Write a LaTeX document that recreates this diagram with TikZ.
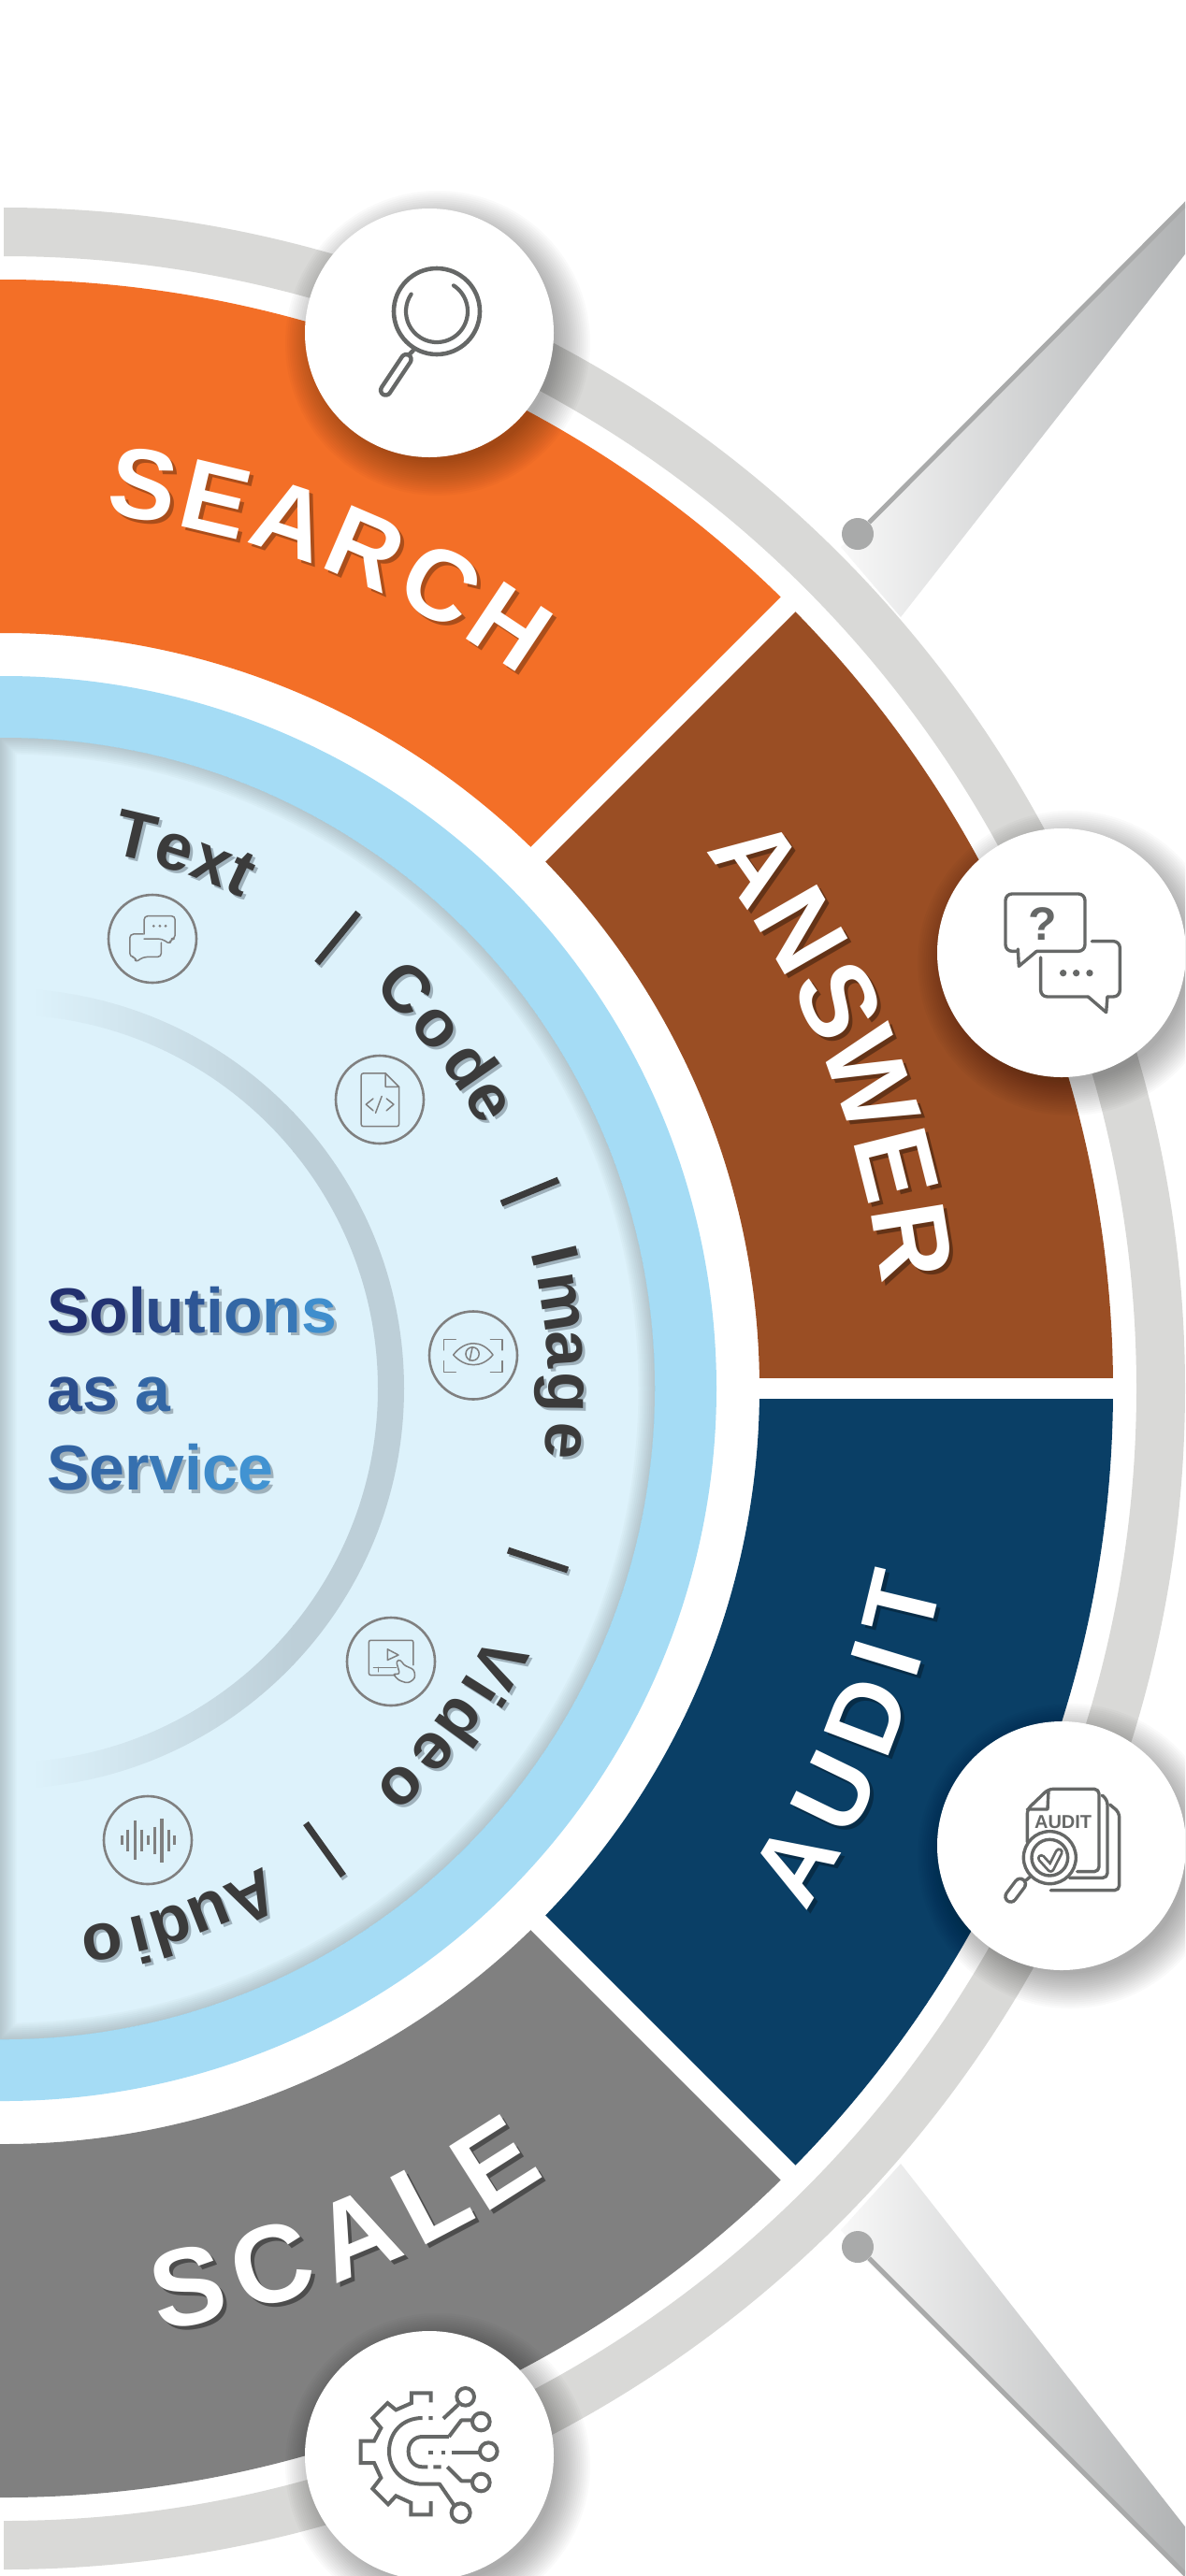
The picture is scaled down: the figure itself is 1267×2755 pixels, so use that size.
\documentclass[tikz,border=0pt]{standalone}
\usepackage{fontspec}
\setmainfont{Liberation Sans}
\usetikzlibrary{calc}
\definecolor{cOrange}{HTML}{F36F27}
\definecolor{cBrown}{HTML}{9A4E24}
\definecolor{cNavy}{HTML}{0A3F66}
\definecolor{cGrey}{HTML}{808080}
\definecolor{cRing}{HTML}{D9D9D7}
\definecolor{cSky}{HTML}{A5DCF5}
\definecolor{cPale}{HTML}{DDF2FB}
\definecolor{cInner}{HTML}{BDCFD8}
\definecolor{cIcon}{HTML}{666867}
\definecolor{cThin}{HTML}{808080}
\definecolor{cSpikeA}{HTML}{F8F8F8}
\definecolor{cSpikeB}{HTML}{B0B2B3}
\definecolor{cDot}{HTML}{A9AAAA}
\definecolor{cDark}{HTML}{3B3B3B}
\definecolor{cSoft}{HTML}{9FB1BB}
\definecolor{gA}{HTML}{22306F}
\definecolor{gB}{HTML}{4193D2}
\newcommand\gc[2]{\textcolor{gA!#1!gB}{#2}}
\newcommand\bigfont{\fontsize{107}{120}\selectfont\bfseries}
\newcommand\ansfont{\fontsize{113}{120}\selectfont\bfseries}
\newcommand\scafont{\fontsize{118}{120}\selectfont\bfseries}
\newcommand\midfont{\fontsize{71}{80}\selectfont\bfseries}
\newcommand\solfont{\fontsize{68}{80}\selectfont\bfseries}
% list, radius, rotation offset, colour, font, name
\newcommand\ringword[6]{%
  \foreach \ltr/\ang [count=\n] in {#1}{%
    \pgfmathsetmacro\rr{\ang+#3}
    \node[inner sep=0pt,anchor=base,rotate=\rr,text=#4,font=#5] (#6\n) at (\ang:#2) {\ltr};
  }}
\newcommand\shadowdisc[3]{%
  \foreach \i in {0,...,17}{%
    \pgfmathsetmacro\rs{#3+30-2.2*\i}
    \fill[black,opacity=.02] (#1+9,-#2-11) circle[radius=\rs];
  }}
\tikzset{
  sector/.style={draw=none},
  ico/.style={draw=cIcon,line width=3.4pt,line join=round,line cap=round},
  thin ico/.style={draw=cThin,line width=1.5pt,line join=round,line cap=round},
  ico ring/.style={circle,draw=cThin,line width=2.6pt,minimum size=94pt,inner sep=0pt},
  badge/.style={circle,fill=white,minimum size=266pt,inner sep=0pt},
  gap/.style={draw=white,line width=22pt},
  slash/.style={draw=cDark,line width=7pt},
  slash shadow/.style={draw=cSoft,line width=7pt},
  spike dot/.style={circle,fill=cDot,minimum size=34pt,inner sep=0pt},
}
\begin{document}
\begin{tikzpicture}[x=1pt,y=1pt]
\clip (0,0) rectangle (1267,-2755);
\fill[white] (0,0) rectangle (1267,-2755);

% spikes
\coordinate (tipT) at (1270,-216);
\coordinate (tipB) at (1270,-2756);
\shade[left color=cSpikeA,right color=cSpikeB]
  (899,-585) -- (929,-558) -- (1270,-216) -- (1270,-268) -- (963,-660) -- cycle;
\shade[left color=cSpikeA,right color=cSpikeB]
  (899,-2385) -- (963,-2314) -- (1270,-2706) -- (1270,-2756) -- (927,-2418) -- cycle;
\node[spike dot] (dotT) at (917,-571) {};
\node[spike dot] (dotB) at (917,-2403) {};
\draw[cDot,line width=5pt] (dotT) -- (tipT);
\draw[cDot,line width=5pt] (dotB) -- (tipB);

\begin{scope}[shift={(4,-1485)}]
  % outer ring
  \fill[cRing] (90:1263) arc[start angle=90,end angle=-90,radius=1263] -- (-90:1211)
     arc[start angle=-90,end angle=90,radius=1211] -- cycle;
  % sectors
  \fill[cOrange] (92:1186) arc[start angle=92,end angle=45,radius=1186] -- (45:808)
     arc[start angle=45,end angle=92,radius=808] -- cycle;
  \fill[cBrown] (45:1186) arc[start angle=45,end angle=0,radius=1186] -- (0:808)
     arc[start angle=0,end angle=45,radius=808] -- cycle;
  \fill[cNavy] (0:1186) arc[start angle=0,end angle=-45,radius=1186] -- (-45:808)
     arc[start angle=-45,end angle=0,radius=808] -- cycle;
  \fill[cGrey] (-45:1186) arc[start angle=-45,end angle=-92,radius=1186] -- (-92:808)
     arc[start angle=-92,end angle=-45,radius=808] -- cycle;
  \coordinate (g1a) at (45:800); \coordinate (g1b) at (45:1192);
  \coordinate (g2a) at (0:800);  \coordinate (g2b) at (0:1192);
  \coordinate (g3a) at (-45:800);\coordinate (g3b) at (-45:1192);
  \draw[gap] (g1a) -- (g1b);
  \draw[gap] (g2a) -- (g2b);
  \draw[gap] (g3a) -- (g3b);
  % sky ring and pale disc
  \fill[cSky] (92:762) arc[start angle=92,end angle=-92,radius=762] -- cycle;
  \fill[cPale] (-4,-696) -- (-4,696) -- (0,696) arc[start angle=90,end angle=-90,radius=696] -- cycle;
  \begin{scope}
    \clip (-4,-696) -- (-4,696) -- (0,696) arc[start angle=90,end angle=-90,radius=696] -- cycle;
    \foreach \w in {3,7,...,35}{
      \draw[color=black!60!cInner,opacity=.032,line width=\w pt] (-4,-696) -- (-4,696) -- (0,696) arc[start angle=90,end angle=-90,radius=696] -- cycle;
    }
  \end{scope}
  % inner fading ring
  \begin{scope}[even odd rule]
    \clip (0,0) circle[radius=428] (0,0) circle[radius=400];
    \shade[left color=cPale,right color=cInner] (30,-440) rectangle (310,440);
    \fill[cInner] (309,-440) rectangle (440,440);
  \end{scope}
\end{scope}

% badges
\shadowdisc{459}{356}{133}
\shadowdisc{1135}{1019}{133}
\shadowdisc{1135}{1974}{133}
\shadowdisc{459}{2626}{133}
\node[badge] (bSearch) at (459,-356) {};
\node[badge] (bAnswer) at (1135,-1019) {};
\node[badge] (bAudit) at (1135,-1974) {};
\node[badge] (bScale) at (459,-2626) {};

% sector words
\begin{scope}[shift={(4,-1485)}]
  \begin{scope}[shift={(4,-4)}]
    \ringword{S/81.2,E/76.6,A/71.7,R/66.7,C/61.5,H/56.4}{941}{-90}{black!30!cOrange}{\bigfont}{sa}
    \ringword{A/35,N/29.9,S/24.9,W/19.6,E/14.1,R/9.2}{945}{-90}{black!35!cBrown}{\ansfont}{aa}
    \ringword{A/-31,U/-25.9,D/-20.8,I/-17,T/-13.5}{1024}{90}{black!30!cNavy}{\bigfont}{ua}
    \ringword{S/-78.4,C/-73,A/-67.4,L/-62.2,E/-57.6}{1021}{90}{black!40!cGrey}{\scafont}{ca}
  \end{scope}
  \ringword{S/81.2,E/76.6,A/71.7,R/66.7,C/61.5,H/56.4}{941}{-90}{white}{\bigfont}{sb}
  \ringword{A/35,N/29.9,S/24.9,W/19.6,E/14.1,R/9.2}{945}{-90}{white}{\ansfont}{ab}
  \ringword{A/-31,U/-25.9,D/-20.8,I/-17,T/-13.5}{1024}{90}{white}{\bigfont}{ub}
  \ringword{S/-78.4,C/-73,A/-67.4,L/-62.2,E/-57.6}{1021}{90}{white}{\scafont}{cb}

  % modality words
  \begin{scope}[shift={(3,-3)}]
    \ringword{T/76.6,e/72.4,x/68.4,t/65.2}{583}{-90}{cSoft}{\midfont}{ta}
    \ringword{C/44.8,o/39.9,d/34.7,e/30.6}{582}{-90}{cSoft}{\midfont}{oa}
    \ringword{I/13.5,m/8.8,a/4,g/-.4,e/-5.3}{582}{-90}{cSoft}{\midfont}{ia}
    \ringword{V/-29,i/-32.3,d/-36,e/-40.2,o/-45}{582}{-90}{cSoft}{\midfont}{va}
    \ringword{A/-64,u/-68.6,d/-72.7,i/-76,o/-79.9}{582}{-90}{cSoft}{\midfont}{da}
  \end{scope}
  \ringword{T/76.6,e/72.4,x/68.4,t/65.2}{583}{-90}{cDark}{\midfont}{tb}
  \ringword{C/44.8,o/39.9,d/34.7,e/30.6}{582}{-90}{cDark}{\midfont}{ob}
  \ringword{I/13.5,m/8.8,a/4,g/-.4,e/-5.3}{582}{-90}{cDark}{\midfont}{ib}
  \ringword{V/-29,i/-32.3,d/-36,e/-40.2,o/-45}{582}{-90}{cDark}{\midfont}{vb}
  \ringword{A/-64,u/-68.6,d/-72.7,i/-76,o/-79.9}{582}{-90}{cDark}{\midfont}{db}
\end{scope}

% separators
\foreach \ax/\ay/\bx/\by in {339/1030/383/976,536/1287/597/1262,543/1658/607/1679,327/1950/367/2006}{
  \draw[slash shadow] (\ax+2,-\ay-3) -- (\bx+2,-\by-3);
  \draw[slash] (\ax,-\ay) -- (\bx,-\by);
}

% centre text
\node[anchor=base west,inner sep=0pt,text=cSoft,font=\solfont] (sol0) at (53,-1428) {Solutions};
\node[anchor=base west,inner sep=0pt,text=cSoft,font=\solfont] (asa0) at (53,-1512) {as a};
\node[anchor=base west,inner sep=0pt,text=cSoft,font=\solfont] (ser0) at (53,-1597) {Service};
\node[anchor=base west,inner sep=0pt,font=\solfont] (sol) at (50,-1425) {\gc{100}{S}\gc{97}{o}\gc{85}{l}\gc{75}{u}\gc{62}{t}\gc{55}{i}\gc{45}{o}\gc{28}{n}\gc{5}{s}};
\node[anchor=base west,inner sep=0pt,font=\solfont] (asa) at (50,-1509) {\gc{70}{a}\gc{62}{s} \gc{45}{a}};
\node[anchor=base west,inner sep=0pt,font=\solfont] (ser) at (50,-1593) {\gc{48}{S}\gc{42}{e}\gc{35}{r}\gc{25}{v}\gc{18}{i}\gc{8}{c}\gc{0}{e}};

% small icon rings
\node[ico ring] (rText) at (163,-1004) {};
\node[ico ring] (rCode) at (406,-1176) {};
\node[ico ring] (rImage) at (506,-1449.5) {};
\node[ico ring] (rVideo) at (418,-1777) {};
\node[ico ring] (rAudio) at (158,-1968) {};

% small icons, coordinates in crop pixels
\begin{scope}[shift={(0,-800)},x=.5102pt,y=-.5102pt]
  \draw[thin ico,rounded corners=4pt] (302,390) -- (302,352) -- (367,352) -- (367,400) -- (357,400) -- (357,412) -- (340,400) -- (302,400);
  \draw[thin ico,rounded corners=4pt] (300,390) -- (272,390) -- (272,438) -- (285,438) -- (283,450) -- (300,438) -- (338,438) -- (338,408);
  \foreach \x in {322,335,347} \fill[cThin] (\x,373) circle[radius=3];
  \draw[thin ico,rounded corners=2pt] (808,682) -- (757,682) -- (757,793) -- (836,793) -- (836,710);
  \draw[thin ico] (808,682) -- (836,710) -- (808,710) -- cycle;
  \draw[thin ico] (782,735) -- (767,747) -- (782,760) (810,735) -- (825,747) -- (810,760) (800,730) -- (787,765);
  \draw[thin ico] (955,1240) -- (930,1240) -- (930,1262) (1028,1240) -- (1053,1240) -- (1053,1262)
     (930,1285) -- (930,1308) -- (955,1308) (1028,1308) -- (1053,1308) -- (1053,1285);
  \draw[thin ico] (950,1272) .. controls (975,1240) and (1010,1240) .. (1033,1272) .. controls (1010,1300) and (975,1300) .. (950,1272) -- cycle;
  \draw[thin ico] (990,1270) circle[radius=14];
  \draw[thin ico] (990,1256) -- (984,1284);
\end{scope}
\begin{scope}[shift={(0,-1600)},x=.5102pt,y=-.4146pt]
  \draw[thin ico,rounded corners=2pt] (828,462) -- (773,462) -- (773,372) -- (866,372) -- (866,436);
  \draw[thin ico] (812,395) -- (835,410) -- (812,423) -- cycle;
  \draw[thin ico] (783,442) -- (830,442) (793,442) -- (793,453);
  \draw[thin ico,rounded corners=3pt] (830,425) -- (838,460) -- (823,458) -- (835,475) -- (855,483) -- (870,470) -- (868,448) -- (845,435) -- (840,422) -- cycle;
  \foreach \x/\h in {255/12,268/28,283/50,297/28,311/12,325/35,339/57,353/28,366/12}
    \draw[cThin,line width=3.2pt] (\x,888-\h) -- (\x,888+\h);
\end{scope}

% search icon
\draw[ico,line width=4.6pt] (467,-333) circle[radius=46];
\begin{scope}[shift={(467,-333)}]
  \draw[ico,line width=4.2pt] (57:33) arc[start angle=57,end angle=-214,radius=33];
\end{scope}
\begin{scope}[shift={(300,-200)},x=.3333pt,y=-.3333pt]
  \draw[ico,line width=4.6pt] (425,525) -- (405,545);
  \draw[cIcon,line width=15pt,line cap=round] (403,553) -- (337,652);
  \draw[white,line width=6pt,line cap=round] (403,553) -- (337,652);
\end{scope}

% answer icon
\begin{scope}[shift={(960,-860)},x=.3333pt,y=-.3333pt]
  \draw[ico,rounded corners=7pt] (445,472) -- (600,472) -- (600,288) -- (345,288) -- (345,472) -- (385,472);
  \draw[ico] (385,465) -- (388,520) -- (445,472);
  \node[inner sep=0pt,text=cIcon,font=\fontsize{50}{50}\selectfont\bfseries] (qm) at (465,385) {?};
  \foreach \x in {530,572,615} \fill[cIcon] (\x,542) circle[radius=11];
  \draw[ico,rounded corners=7pt] (622,440) -- (712,440) -- (712,618) -- (672,618);
  \draw[ico] (672,618) -- (668,668) -- (610,618);
  \draw[ico,rounded corners=7pt] (610,618) -- (458,618) -- (458,492);
\end{scope}

% audit icon
\begin{scope}[shift={(960,-1800)},x=.3333pt,y=-.3333pt]
  \draw[ico,rounded corners=5pt] (490,665) -- (710,665) -- (710,415) -- (680,390);
  \draw[ico,rounded corners=5pt] (550,625) -- (672,625) -- (672,375) -- (655,360);
  \draw[ico,rounded corners=5pt] (575,605) -- (645,605) -- (645,340) -- (483,340) -- (415,405) -- (415,510);
  \draw[ico] (483,345) -- (480,405) -- (415,405);
  \node[inner sep=0pt,text=cIcon,font=\fontsize{20}{20}\selectfont\bfseries] (aud) at (530,445) {AUDIT};
  \draw[ico,fill=white] (487,560) circle[radius=84];
  \draw[ico] (487,560) circle[radius=58];
  \draw[cIcon,line width=9pt,line join=round,line cap=round] (460,562) -- (490,595) -- (517,542);
  \draw[white,line width=3.4pt,line join=round,line cap=round] (460,562) -- (490,595) -- (517,542);
  \draw[ico] (428,618) -- (412,632);
  \draw[cIcon,line width=15pt,line cap=round] (392,645) -- (362,685);
  \draw[white,line width=8pt,line cap=round] (392,645) -- (362,685);
\end{scope}

% scale icon
\begin{scope}[shift={(320,-2480)},x=.3333pt,y=-.3333pt]
  \draw[ico,line width=4pt,line cap=butt,line join=miter] (422,268) -- (422,238) -- (360,238) -- (360,270) -- (310,292) -- (283,270) -- (235,318) -- (262,350) -- (240,392) -- (197,392) -- (197,462) -- (240,462) -- (262,510) -- (235,545) -- (285,595) -- (310,568) -- (358,590) -- (358,628) -- (422,628) -- (422,585);
  \draw[ico,line width=4pt,line cap=butt] (395,318) .. controls (330,318) and (288,365) .. (288,425) .. controls (288,485) and (335,530) .. (395,530) -- (450,530) -- (498,600);
  \draw[ico,line width=4pt,line cap=butt] (480,378) -- (395,378) .. controls (368,378) and (350,398) .. (350,425) .. controls (350,455) and (370,475) .. (395,475) -- (412,475);
  \draw[ico,line width=4pt,line cap=butt] (480,378) -- (520,325) -- (555,325);
  \draw[ico,line width=4pt,line cap=butt] (430,475) -- (455,475) (475,475) -- (520,520) -- (555,520);
  \draw[ico,line width=4pt,line cap=butt] (415,318) -- (428,318) (462,320) -- (510,275);
  \draw[ico,line width=4pt,line cap=butt] (415,428) -- (428,428) (455,428) -- (468,428) (488,428) -- (580,428);
  \draw[ico,line width=4pt] (533,250) circle[radius=28];
  \draw[ico,line width=4pt] (583,330) circle[radius=28];
  \draw[ico,line width=4pt] (607,425) circle[radius=28];
  \draw[ico,line width=4pt] (583,525) circle[radius=28];
  \draw[ico,line width=4pt] (518,622) circle[radius=30];
\end{scope}
\end{tikzpicture}
\end{document}
